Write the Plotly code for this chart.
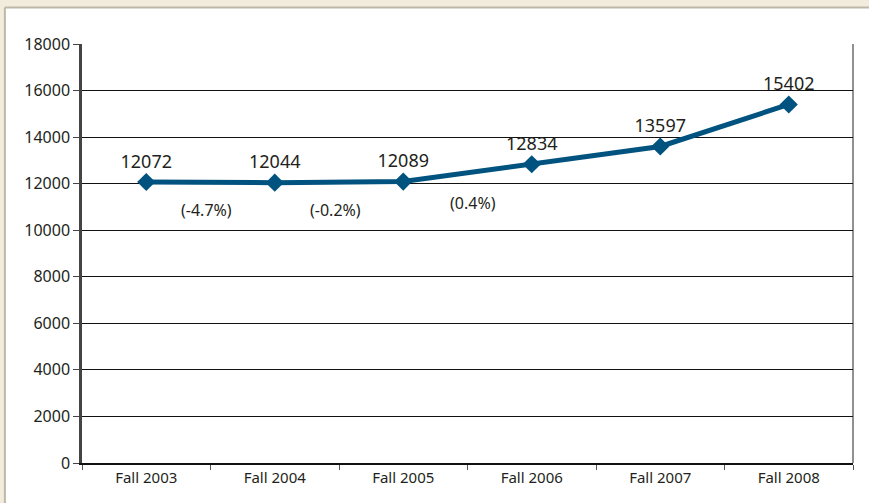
import plotly.graph_objects as go

terms = ["Fall 2003", "Fall 2004", "Fall 2005", "Fall 2006", "Fall 2007", "Fall 2008"]
enrollment = [12072, 12044, 12089, 12834, 13597, 15402]
change_labels = ["(-4.7%)", "(-0.2%)", "(0.4%)"]
change_x = [0.47, 1.47, 2.54]
change_y = [10870, 10870, 11170]

fig = go.Figure()

fig.add_trace(
    go.Scatter(
        x=terms,
        y=enrollment,
        mode="lines+markers+text",
        text=[str(v) for v in enrollment],
        textposition="top center",
        textfont=dict(size=18, color="#231f20"),
        line=dict(color="#00527f", width=5),
        marker=dict(symbol="diamond", size=14, color="#00527f"),
        cliponaxis=False,
        showlegend=False,
    )
)

for label, cx, cy in zip(change_labels, change_x, change_y):
    fig.add_annotation(
        x=cx, y=cy, text=label, showarrow=False,
        font=dict(size=16, color="#231f20"),
    )

# beige page strips (top and left) around the white card
beige = "#f1ecdc"
fig.add_shape(type="rect", xref="paper", yref="paper",
              x0=-0.2, x1=1.03, y0=1.087, y1=1.2,
              fillcolor=beige, line_width=0, layer="below")
fig.add_shape(type="rect", xref="paper", yref="paper",
              x0=-0.2, x1=-0.1, y0=-0.2, y1=1.2,
              fillcolor=beige, line_width=0, layer="below")
fig.add_shape(type="line", xref="paper", yref="paper",
              x0=-0.1, x1=1.03, y0=1.087, y1=1.087,
              line=dict(color="#bdb8aa", width=2), layer="below")
fig.add_shape(type="line", xref="paper", yref="paper",
              x0=-0.1, x1=-0.1, y0=-0.2, y1=1.087,
              line=dict(color="#bdb8aa", width=2), layer="below")
# right border of plot area
fig.add_shape(
    type="line", xref="x domain", yref="y domain",
    x0=1, x1=1, y0=0, y1=1, line=dict(color="#222", width=1),
)

fig.update_xaxes(
    type="category",
    tickson="boundaries",
    ticks="outside",
    ticklen=5,
    tickcolor="#555",
    showgrid=False,
    showline=True,
    linecolor="#111",
    linewidth=1.5,
    range=[-0.5, 5.5],
    tickfont=dict(size=15, color="#231f20"),
)
fig.update_yaxes(
    range=[0, 18000],
    dtick=2000,
    tickformat="d",
    ticks="outside",
    ticklen=6,
    tickcolor="#444",
    showgrid=True,
    gridcolor="#111",
    gridwidth=1,
    showline=True,
    linecolor="#444",
    linewidth=2.5,
    zeroline=False,
    tickfont=dict(size=16, color="#231f20"),
)

fig.update_layout(
    width=869,
    height=503,
    margin=dict(l=82, r=16, t=44, b=40),
    paper_bgcolor="white",
    plot_bgcolor="white",
    font=dict(family="Noto Sans, Open Sans, sans-serif"),
)

fig.write_html(
    "out.html",
    config={"displayModeBar": False},
    post_script=(
        "document.body.style.margin='0px';"
        "document.documentElement.style.overflow='hidden';"
        "var gd=document.getElementById('{plot_id}');"
        "gd.style.position='fixed';gd.style.left='0px';gd.style.top='0px';"
    ),
)
